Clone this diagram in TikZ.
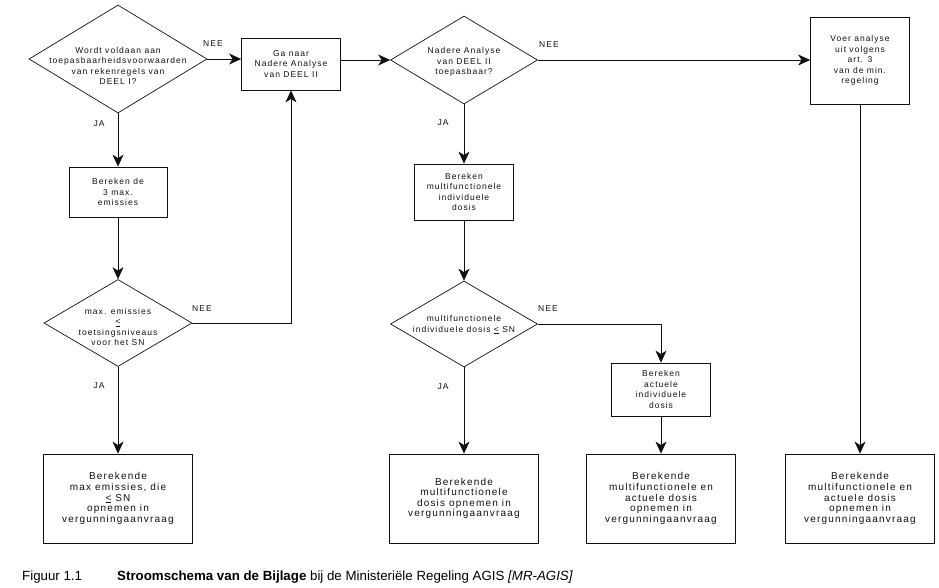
\documentclass[tikz,border=0pt]{standalone}
\usepackage{fontspec}
\setmainfont{Liberation Sans}
\newfontfamily\schemafont[LetterSpace=12]{Liberation Sans}
\usetikzlibrary{arrows.meta,shapes.geometric}
\definecolor{ink}{HTML}{111111}
\tikzset{
  stap/.style={draw=ink, line width=0.8pt, inner sep=2pt, minimum width=99pt,
               font=\schemafont\fontsize{8.5}{10.5}\selectfont, align=center, text=ink},
  keuze/.style={diamond, draw=ink, line width=0.7pt, inner sep=0pt},
  ktekst/.style={font=\schemafont\fontsize{8.5}{10.3}\selectfont, align=center, text=ink},
  eind/.style={draw=ink, line width=0.8pt, minimum width=149pt, minimum height=89pt,
               font=\schemafont\fontsize{10}{10.6}\selectfont, align=center, text=ink},
  tak/.style={font=\schemafont\fontsize{8.5}{10}\selectfont, text=ink},
  pijl/.style={-{Stealth[length=12pt,width=11pt,inset=3.5pt]}, line width=0.8pt, draw=ink},
}

\begin{document}
\begin{tikzpicture}[x=1pt, y=-1pt]
    \fill[white] (0,0) rectangle (939,587);
    \useasboundingbox (0,0) rectangle (939,587);
    % beslissingen
    \node[keuze, minimum width=178pt, minimum height=108pt] (d1) at (118,59) {};
    \node[ktekst] (d1t) at (118,66) {Wordt voldaan aan\\toepasbaarheidsvoorwaarden\\van rekenregels van\\DEEL I?};
    \node[keuze, minimum width=147pt, minimum height=88pt] (d2) at (464,60) {};
    \node[ktekst] (d2t) at (464,62) {Nadere Analyse\\van DEEL II\\toepasbaar?};
    \node[keuze, minimum width=148pt, minimum height=87pt] (d3) at (118,323) {};
    \node[ktekst] (d3t) at (118,327) {max. emissies\\\underline{<}\\toetsingsniveaus\\voor het SN};
    \node[keuze, minimum width=147pt, minimum height=86pt] (d4) at (464,324) {};
    \node[ktekst] (d4t) at (464,325) {multifunctionele\\individuele dosis \underline{<} SN};
    % stappen
    \node[stap, minimum height=52pt] (b1) at (291,64) {Ga naar\\Nadere Analyse\\van DEEL II};
    \node[stap, minimum height=87pt] (b2) at (860,60.5) {Voer analyse\\uit volgens\\art. 3\\van de min.\\regeling};
    \node[stap, minimum width=98pt, minimum height=50pt] (b3) at (118,192) {Bereken de\\3 max.\\emissies};
    \node[stap, minimum height=56pt] (b4) at (464,192) {Bereken\\multifunctionele\\individuele\\dosis};
    \node[stap, minimum height=53pt] (b5) at (661,389.5) {Bereken\\actuele\\individuele\\dosis};
    % uitkomsten
    \node[eind] (b6) at (118,498.5) {Berekende\\max emissies, die\\\underline{<} SN\\opnemen in\\vergunningaanvraag};
    \node[eind] (b7) at (464,498.5) {Berekende\\multifunctionele\\dosis opnemen in\\vergunningaanvraag};
    \node[eind] (b8) at (661,498.5) {Berekende\\multifunctionele en\\actuele dosis\\opnemen in\\vergunningaanvraag};
    \node[eind] (b9) at (860,498.5) {Berekende\\multifunctionele en\\actuele dosis\\opnemen in\\vergunningaanvraag};
    % verbindingen
    \draw[pijl] (d1.east) -- (d1.east -| b1.west);
    \draw[pijl] (b1.east |- d2.west) -- (d2.west);
    \draw[pijl] (d2.east) -- (d2.east -| b2.west);
    \draw[pijl] (d1.south) -- (b3.north); \draw[pijl] (b3.south) -- (d3.north);
    \draw[pijl] (d3.east) -| (b1.south); \draw[pijl] (d3.south) -- (b6.north);
    \draw[pijl] (d2.south) -- (b4.north); \draw[pijl] (b4.south) -- (d4.north);
    \draw[pijl] (d4.east) -| (b5.north); \draw[pijl] (d4.south) -- (b7.north);
    \draw[pijl] (b5.south) -- (b8.north); \draw[pijl] (b2.south) -- (b9.north);
    % ja / nee
    \node[tak] (n1) at (213,44) {NEE};
    \node[tak] (j1) at (99,124) {JA};
    \node[tak] (n2) at (549,45) {NEE};
    \node[tak] (j2) at (443,123) {JA};
    \node[tak] (n3) at (202,309) {NEE};
    \node[tak] (j3) at (99,386) {JA};
    \node[tak] (n4) at (548,309) {NEE};
    \node[tak] (j4) at (443,387) {JA};
    % onderschrift
    \node[anchor=base west, font=\fontsize{13.3}{15}\selectfont, inner sep=0pt] (fig) at (22,580) {Figuur 1.1};
    \node[anchor=base west, font=\fontsize{13.3}{15}\selectfont, inner sep=0pt] (titel) at (117,580)
      {\textbf{Stroomschema van de Bijlage} bij de Ministeriële Regeling AGIS \textit{[MR-AGIS]}};
  \end{tikzpicture}
\end{document}
